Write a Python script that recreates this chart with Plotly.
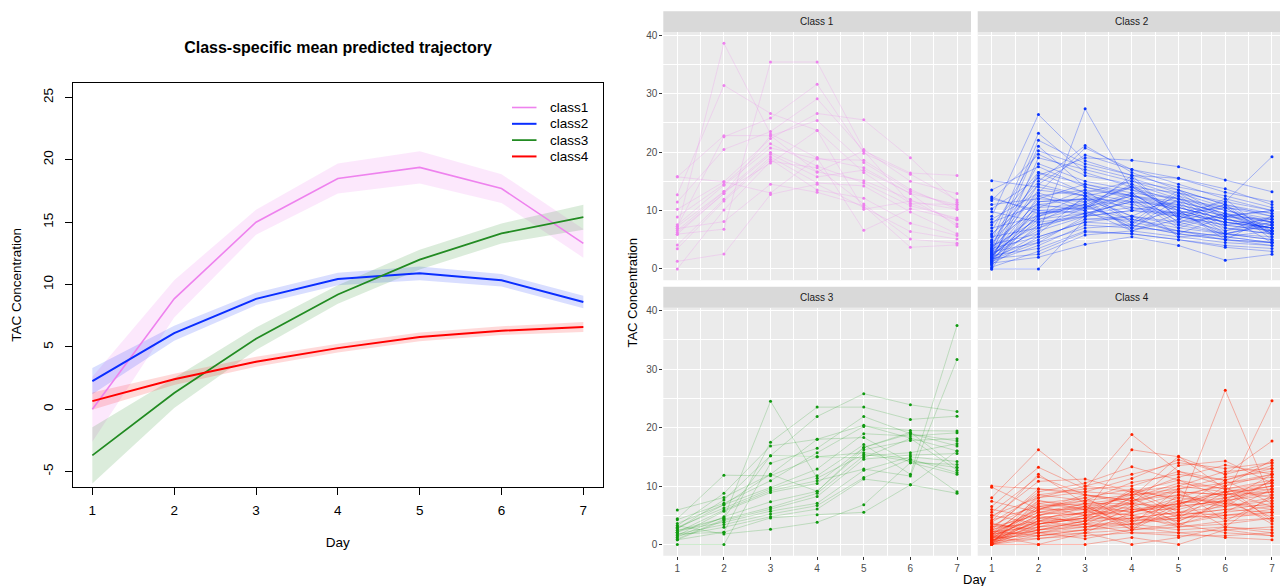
import plotly.graph_objects as go

# The page body has an 8px margin, so the figure is drawn 8px in from the
# top-left corner; positions below are given in the reference's pixels.
OFF = 8
W, H = 1288 - OFF, 586 - OFF
FONT = "Liberation Sans, Arial, Helvetica, sans-serif"

# ---------------- data ----------------
days = [1, 2, 3, 4, 5, 6, 7]
class_names = ["class1", "class2", "class3", "class4"]
facet_titles = ["Class 1", "Class 2", "Class 3", "Class 4"]
left_ticks_y = [-5, 0, 5, 10, 15, 20, 25]
left_ticktext_y = ["-5", "0", "5", "10", "15", "20", "25"]
right_ticks_y = [0, 10, 20, 30, 40]

mean_class1 = [0.0, 8.85, 15.0, 18.5, 19.4, 17.7, 13.3]
lower_class1 = [-2.6, 7.35, 14.0, 17.3, 18.1, 16.55, 12.15]
upper_class1 = [2.6, 10.35, 16.0, 19.7, 20.7, 18.85, 14.45]
mean_class2 = [2.25, 6.1, 8.85, 10.45, 10.9, 10.35, 8.6]
lower_class2 = [1.2, 5.5, 8.35, 9.95, 10.35, 9.85, 8.1]
upper_class2 = [3.3, 6.7, 9.35, 10.95, 11.45, 10.85, 9.1]
mean_class3 = [-3.7, 1.3, 5.65, 9.2, 12.0, 14.1, 15.4]
lower_class3 = [-5.95, 0.1, 4.75, 8.45, 11.2, 13.3, 14.4]
upper_class3 = [-1.45, 2.5, 6.55, 9.95, 12.8, 14.9, 16.4]
mean_class4 = [0.65, 2.4, 3.8, 4.9, 5.8, 6.3, 6.6]
lower_class4 = [-0.05, 1.95, 3.4, 4.55, 5.45, 5.95, 6.2]
upper_class4 = [1.35, 2.85, 4.2, 5.25, 6.15, 6.65, 7.0]

traj_class1 = [
    [6.9, 38.6, 23.1, 19.0, 17.3, 12.9, 11.0],
    [15.75, 22.8, 22.8, 25.4, 18.2, 13.3, 10.6],
    [12.7, 31.4, 26.6, 23.7, 16.5, 11.2, 8.4],
    [5.95, 6.8, 35.4, 35.4, 20.45, 15.0, 12.9],
    [7.25, 22.6, 25.8, 31.6, 19.8, 16.2, 11.8],
    [11.44, 20.45, 23.5, 29.1, 20.2, 16.4, 16.0],
    [10.2, 14.9, 22.3, 26.6, 25.5, 19.0, 11.4],
    [8.9, 14.5, 21.4, 17.6, 14.7, 10.8, 8.7],
    [7.54, 14.3, 20.7, 18.8, 18.6, 13.6, 10.2],
    [6.57, 13.26, 19.9, 16.6, 15.1, 11.9, 7.7],
    [6.23, 12.9, 19.6, 15.75, 16.9, 12.9, 7.25],
    [4.08, 11.9, 19.15, 14.7, 14.2, 9.75, 6.0],
    [3.46, 11.6, 18.75, 13.5, 12.1, 7.8, 5.7],
    [1.3, 2.55, 12.75, 14.5, 10.5, 6.4, 5.1],
    [0.0, 10.1, 18.4, 17.3, 11.1, 5.1, 4.4],
    [6.9, 8.1, 14.5, 13.1, 10.8, 3.7, 4.1],
    [7.25, 13.26, 18.1, 23.7, 10.2, 11.6, 10.2],
    [15.75, 14.9, 13.0, 19.0, 6.6, 10.3, 8.4],
    [5.95, 12.9, 22.8, 16.6, 20.2, 11.2, 11.0],
]

traj_class2 = [
    [0.0, 0.0, 8.5, 9.0, 7.5, 6.0, 5.5],
    [15.1, 14.0, 12.5, 8.0, 13.5, 9.0, 10.0],
    [13.5, 17.5, 14.0, 12.0, 10.0, 8.0, 7.0],
    [12.3, 9.5, 10.5, 14.5, 9.0, 11.0, 5.0],
    [11.7, 19.6, 16.0, 14.5, 12.0, 9.0, 8.0],
    [11.0, 12.0, 11.5, 7.0, 11.0, 6.0, 7.5],
    [10.3, 15.5, 13.0, 15.0, 13.5, 11.0, 9.0],
    [9.8, 8.0, 9.0, 12.0, 7.0, 9.5, 6.5],
    [9.0, 26.4, 18.5, 16.0, 14.0, 12.5, 10.5],
    [8.5, 13.0, 20.7, 17.0, 15.5, 13.1, 11.5],
    [8.0, 11.0, 12.0, 9.0, 12.5, 7.5, 8.5],
    [7.5, 16.5, 14.5, 12.5, 10.5, 8.5, 7.0],
    [7.0, 9.0, 11.0, 14.0, 9.5, 10.5, 6.0],
    [6.5, 20.2, 17.5, 15.5, 13.0, 10.5, 9.5],
    [6.0, 12.5, 10.0, 16.0, 8.5, 12.0, 5.5],
    [5.5, 7.0, 9.5, 11.5, 11.0, 9.0, 7.5],
    [5.0, 14.5, 12.5, 11.0, 9.5, 8.0, 6.5],
    [4.8, 23.2, 16.5, 14.0, 11.5, 9.5, 8.0],
    [4.5, 10.5, 13.5, 8.0, 10.0, 5.0, 9.0],
    [4.2, 6.0, 27.4, 13.5, 10.5, 8.5, 7.5],
    [4.0, 18.0, 15.0, 13.5, 12.0, 10.0, 8.5],
    [3.8, 8.5, 10.5, 13.0, 8.0, 9.0, 4.5],
    [3.6, 11.5, 12.0, 11.5, 9.0, 7.5, 6.5],
    [3.5, 5.5, 8.0, 9.0, 8.0, 6.0, 5.0],
    [3.3, 16.0, 19.0, 18.6, 17.5, 15.2, 13.2],
    [3.2, 9.5, 11.0, 7.5, 13.0, 8.5, 7.0],
    [3.0, 7.5, 9.5, 8.0, 6.5, 5.5, 4.5],
    [3.0, 13.5, 12.5, 9.0, 6.0, 9.0, 10.0],
    [2.9, 4.5, 7.0, 7.5, 6.0, 5.0, 4.0],
    [2.8, 10.0, 10.5, 15.5, 8.5, 6.5, 8.0],
    [2.7, 21.0, 14.0, 12.5, 10.0, 8.0, 7.0],
    [2.6, 6.5, 9.0, 10.0, 9.0, 7.0, 6.0],
    [2.5, 8.0, 12.0, 6.5, 8.5, 11.0, 6.5],
    [2.4, 12.0, 14.5, 13.0, 12.0, 10.5, 9.0],
    [2.3, 3.5, 6.5, 6.0, 5.0, 4.0, 3.5],
    [2.2, 9.0, 11.5, 14.0, 10.0, 5.5, 6.5],
    [2.1, 14.5, 19.5, 17.0, 14.5, 12.0, 10.0],
    [2.0, 5.0, 8.5, 8.5, 7.0, 6.0, 5.0],
    [2.0, 11.0, 10.0, 12.5, 7.5, 9.5, 6.0],
    [1.9, 7.0, 10.5, 12.5, 11.5, 9.5, 8.0],
    [1.8, 2.5, 5.8, 6.5, 5.5, 4.5, 4.0],
    [1.7, 16.5, 13.0, 11.5, 10.5, 8.5, 7.0],
    [1.6, 8.5, 9.5, 11.5, 5.5, 6.0, 8.0],
    [1.5, 6.0, 12.5, 14.0, 13.0, 11.5, 10.0],
    [1.4, 10.5, 11.0, 7.0, 12.0, 7.0, 6.0],
    [1.3, 4.0, 7.5, 7.0, 6.5, 5.5, 4.5],
    [1.2, 19.0, 17.0, 15.0, 12.5, 10.0, 8.0],
    [1.1, 7.5, 9.0, 13.0, 8.0, 10.5, 6.0],
    [1.0, 2.0, 4.2, 5.5, 4.0, 1.5, 2.5],
    [0.9, 12.5, 13.5, 12.5, 11.0, 9.0, 8.5],
    [0.8, 5.5, 8.0, 7.5, 6.0, 5.0, 4.5],
    [0.6, 9.5, 10.0, 6.5, 9.5, 6.0, 7.5],
    [0.3, 3.0, 6.3, 6.0, 5.0, 3.7, 3.0],
    [0.0, 11.5, 12.0, 10.5, 9.0, 7.5, 6.5],
    [12.0, 10.0, 9.5, 10.5, 9.5, 11.5, 19.2],
    [5.8, 15.0, 21.1, 16.5, 13.5, 11.0, 9.5],
    [3.4, 22.0, 18.0, 16.0, 15.5, 13.7, 11.0],
    [2.2, 9.0, 13.0, 10.0, 11.5, 6.5, 9.0],
    [1.6, 4.5, 9.0, 10.0, 9.5, 8.0, 7.0],
    [4.6, 13.0, 10.5, 8.5, 6.5, 5.0, 4.5],
]

traj_class3 = [
    [2.4, 4.55, 24.5, 11.35, 15.4, 14.3, 13.15],
    [4.4, 11.85, 11.75, 15.0, 15.7, 14.6, 12.3],
    [1.8, 2.1, 17.5, 23.5, 23.5, 21.4, 21.95],
    [3.2, 8.75, 16.85, 18.0, 18.3, 14.0, 12.0],
    [2.7, 7.6, 15.2, 21.9, 25.8, 23.9, 22.75],
    [0.0, 0.0, 13.9, 16.45, 21.9, 18.95, 16.85],
    [5.9, 8.05, 12.0, 18.0, 20.4, 18.15, 16.0],
    [4.25, 7.05, 10.9, 15.7, 20.2, 19.5, 19.4],
    [3.6, 6.8, 9.75, 12.9, 18.95, 18.55, 19.1],
    [2.95, 6.25, 9.5, 11.75, 17.1, 12.0, 37.45],
    [2.1, 5.9, 9.2, 10.9, 12.9, 11.7, 31.65],
    [1.5, 5.7, 8.9, 10.45, 16.6, 18.95, 17.7],
    [1.25, 4.75, 7.3, 9.1, 16.2, 17.8, 18.1],
    [0.95, 4.3, 6.35, 8.75, 15.15, 15.7, 17.25],
    [0.8, 4.1, 6.05, 8.2, 14.6, 15.3, 15.55],
    [2.4, 3.8, 5.7, 7.05, 12.7, 15.0, 14.2],
    [1.8, 3.4, 5.2, 6.65, 11.45, 14.6, 9.0],
    [1.5, 2.95, 4.75, 6.05, 11.2, 10.2, 8.75],
    [0.8, 2.1, 4.55, 5.1, 5.5, 10.2, 16.0],
    [3.2, 1.8, 2.6, 3.8, 6.8, 14.0, 13.7],
    [2.1, 4.55, 15.2, 15.0, 14.85, 18.15, 12.7],
    [2.7, 6.8, 12.0, 9.1, 16.6, 19.2, 13.15],
]

traj_class4 = [
    [0.0, 0.0, 0.0, 1.2, 0.0, 2.5, 1.5],
    [10.0, 9.5, 9.0, 8.5, 9.0, 8.5, 10.0],
    [9.8, 6.0, 7.5, 10.6, 12.0, 11.0, 13.0],
    [8.0, 16.2, 10.0, 9.0, 11.0, 9.5, 10.5],
    [7.4, 5.5, 6.5, 3.0, 7.0, 9.0, 4.5],
    [6.5, 13.2, 9.5, 18.8, 12.5, 10.0, 12.0],
    [6.0, 4.5, 5.5, 16.2, 15.0, 12.0, 14.0],
    [5.5, 11.6, 8.5, 7.5, 10.0, 9.0, 9.5],
    [5.0, 3.5, 4.5, 9.5, 5.5, 7.5, 12.0],
    [4.6, 10.8, 11.2, 9.0, 8.0, 10.5, 11.5],
    [4.2, 6.5, 7.0, 2.5, 6.5, 11.0, 7.0],
    [3.8, 8.5, 7.5, 8.5, 9.5, 11.5, 12.5],
    [3.5, 2.5, 4.0, 8.0, 4.5, 9.0, 6.5],
    [3.2, 7.0, 6.0, 7.0, 13.5, 14.3, 10.5],
    [3.0, 5.0, 6.5, 3.5, 9.5, 4.0, 8.0],
    [2.8, 9.0, 10.5, 13.3, 11.0, 8.0, 9.0],
    [2.6, 4.0, 3.0, 4.0, 5.0, 4.5, 5.5],
    [2.4, 6.0, 8.0, 9.5, 7.5, 9.0, 10.0],
    [2.2, 3.0, 5.0, 6.0, 6.0, 26.4, 7.5],
    [2.0, 7.5, 6.5, 5.5, 7.0, 8.0, 24.6],
    [1.9, 2.0, 2.5, 6.5, 4.0, 7.5, 4.0],
    [1.8, 5.5, 7.0, 8.0, 10.5, 9.5, 11.0],
    [1.7, 3.5, 4.5, 4.5, 3.5, 5.0, 6.0],
    [1.6, 8.0, 9.0, 11.3, 14.5, 12.0, 17.7],
    [1.5, 4.5, 5.5, 7.0, 6.5, 7.5, 9.0],
    [1.4, 2.5, 3.5, 3.5, 2.5, 3.0, 2.0],
    [1.3, 6.5, 5.0, 6.5, 8.5, 10.0, 14.4],
    [1.2, 1.5, 2.0, 2.5, 3.0, 4.0, 4.5],
    [1.1, 5.0, 6.0, 2.5, 8.5, 6.5, 11.0],
    [1.0, 3.0, 4.0, 7.5, 9.0, 8.5, 10.0],
    [0.9, 7.0, 8.0, 4.0, 7.5, 3.0, 8.5],
    [0.8, 2.0, 3.0, 4.5, 5.5, 5.0, 5.5],
    [0.7, 4.0, 5.5, 5.0, 4.0, 7.0, 6.5],
    [0.6, 1.0, 1.5, 2.0, 2.0, 1.2, 0.8],
    [0.5, 3.5, 4.5, 8.0, 3.5, 5.5, 9.5],
    [0.4, 6.0, 6.0, 8.5, 11.5, 13.6, 12.0],
    [0.3, 2.5, 3.0, 3.5, 4.5, 5.0, 5.0],
    [0.2, 5.0, 7.0, 7.0, 6.0, 8.0, 9.5],
    [0.1, 1.5, 2.5, 3.0, 2.0, 2.5, 3.0],
    [0.0, 4.5, 4.0, 5.5, 7.5, 6.5, 8.0],
    [0.0, 3.0, 3.5, 7.0, 3.0, 8.0, 3.5],
    [0.0, 8.5, 9.5, 10.0, 12.5, 11.0, 13.5],
    [0.0, 1.0, 2.0, 5.5, 8.0, 7.0, 6.0],
    [0.0, 2.0, 1.0, 2.5, 3.5, 2.0, 1.5],
    [0.5, 6.5, 7.5, 6.0, 5.0, 6.0, 7.0],
    [1.0, 4.0, 6.5, 8.0, 15.1, 9.5, 8.0],
    [1.5, 0.0, 2.0, 0.0, 1.2, 3.0, 2.5],
    [2.0, 5.5, 5.0, 4.0, 4.5, 5.5, 6.5],
    [2.5, 9.5, 8.5, 7.0, 9.5, 10.5, 12.0],
    [3.0, 3.5, 5.0, 9.0, 5.0, 10.0, 4.0],
    [0.3, 7.5, 6.0, 5.0, 6.5, 7.5, 8.5],
    [0.8, 2.5, 4.0, 4.5, 5.5, 6.5, 7.5],
    [1.2, 5.0, 3.5, 2.0, 1.5, 1.5, 2.0],
    [4.0, 12.0, 7.0, 5.5, 7.0, 8.5, 9.0],
    [0.2, 3.5, 5.5, 9.0, 10.0, 12.5, 13.0],
    [2.3, 1.5, 2.5, 3.5, 5.0, 6.0, 5.5],
    [1.7, 6.0, 8.5, 7.5, 8.5, 7.0, 11.0],
    [0.6, 4.0, 4.5, 6.0, 7.0, 9.0, 10.5],
    [3.6, 2.0, 3.5, 5.0, 3.0, 3.5, 4.5],
    [5.0, 8.0, 10.0, 12.0, 14.0, 13.0, 14.0],
]

means = [mean_class1, mean_class2, mean_class3, mean_class4]
lowers = [lower_class1, lower_class2, lower_class3, lower_class4]
uppers = [upper_class1, upper_class2, upper_class3, upper_class4]
trajs = [traj_class1, traj_class2, traj_class3, traj_class4]

# ---------------- style ----------------
line_colors = ["#EE82EE", "#0A2EFF", "#228B22", "#FF0000"]
line_widths = [1.6, 2, 1.8, 2]
band_colors = ["rgba(238,130,238,0.18)", "rgba(20,50,255,0.16)",
               "rgba(34,139,34,0.16)", "rgba(255,0,0,0.15)"]
pt_colors = ["#EE82EE", "#0A35FF", "#109A10", "#FF2200"]
traj_rgba = ["rgba(238,130,238,0.35)", "rgba(10,53,255,0.36)",
             "rgba(16,154,16,0.30)", "rgba(255,34,0,0.36)"]
traj_widths = [0.7, 0.9, 0.7, 0.9]


def px(x):
    return (x - OFF) / W


def py(y):
    return 1 - (y - OFF) / H


fig = go.Figure()

# ---------------- left: mean trajectories ----------------
for i in range(4):
    fig.add_trace(go.Scatter(x=days, y=lowers[i], mode="lines",
                             line=dict(width=0, color=band_colors[i]),
                             showlegend=False, hoverinfo="skip",
                             xaxis="x", yaxis="y"))
    fig.add_trace(go.Scatter(x=days, y=uppers[i], mode="lines",
                             line=dict(width=0, color=band_colors[i]),
                             fill="tonexty", fillcolor=band_colors[i],
                             showlegend=False, hoverinfo="skip",
                             xaxis="x", yaxis="y"))
for i in range(4):
    fig.add_trace(go.Scatter(x=days, y=means[i], mode="lines", name=class_names[i],
                             line=dict(color=line_colors[i], width=line_widths[i]),
                             showlegend=False, xaxis="x", yaxis="y"))

shapes = []
annotations = []

# legend of the left panel (no frame, top-right inside the box)
leg_line_x = (512, 536.5)
leg_text_x = 548
leg_y0, leg_dy = 105, 16.4
for i in range(4):
    yy = leg_y0 + i * leg_dy
    shapes.append(dict(type="line", xref="paper", yref="paper",
                       x0=px(leg_line_x[0]), x1=px(leg_line_x[1]), y0=py(yy), y1=py(yy),
                       line=dict(color=line_colors[i], width=line_widths[i])))
    annotations.append(dict(text=class_names[i], xref="paper", yref="paper",
                            x=px(leg_text_x), y=py(yy), xanchor="left", yanchor="middle",
                            showarrow=False,
                            font=dict(family=FONT, size=13.5, color="black")))

# ---------------- right: facets ----------------
colx = [(663.3, 971.0), (977.7, 1286.0)]
rowy = [(29.3, 278.6), (306.3, 555.6)]
strip_h = 21.0

for i in range(4):
    k = i + 2
    r, c = divmod(i, 2)
    for tr in trajs[i]:
        fig.add_trace(go.Scatter(x=days, y=tr, mode="lines",
                                 line=dict(color=traj_rgba[i], width=traj_widths[i]),
                                 showlegend=False, hoverinfo="skip",
                                 xaxis=f"x{k}", yaxis=f"y{k}"))
    xs, ys = [], []
    for tr in trajs[i]:
        xs.extend(days)
        ys.extend(tr)
    fig.add_trace(go.Scatter(x=xs, y=ys, mode="markers",
                             marker=dict(color=pt_colors[i], size=3.0, line=dict(width=0)),
                             showlegend=False, hoverinfo="skip",
                             xaxis=f"x{k}", yaxis=f"y{k}"))
    x0, x1 = colx[c]
    y0, y1 = rowy[r]
    shapes.append(dict(type="rect", xref=f"x{k} domain", yref=f"y{k} domain",
                       x0=0, x1=1, y0=0, y1=1, fillcolor="#EBEBEB",
                       line=dict(width=0), layer="below"))
    shapes.append(dict(type="rect", xref="paper", yref="paper",
                       x0=px(x0), x1=px(x1), y0=py(y0), y1=py(y0 - strip_h),
                       fillcolor="#D9D9D9", line=dict(width=0), layer="below"))
    annotations.append(dict(text=facet_titles[i], xref="paper", yref="paper",
                            x=px((x0 + x1) / 2), y=py(y0 - strip_h / 2),
                            xanchor="center", yanchor="middle", showarrow=False,
                            font=dict(family=FONT, size=10, color="#1A1A1A")))

# right axis titles
annotations.append(dict(text="Day", xref="paper", yref="paper", x=px(975), y=py(579),
                        xanchor="center", yanchor="middle", showarrow=False,
                        font=dict(family=FONT, size=13, color="black")))
annotations.append(dict(text="TAC Concentration", xref="paper", yref="paper",
                        x=px(633), y=py(291), xanchor="center", yanchor="middle",
                        textangle=-90, showarrow=False,
                        font=dict(family=FONT, size=13, color="black")))

layout = dict(
    width=W, height=H,
    margin=dict(l=0, r=0, t=0, b=0),
    paper_bgcolor="white", plot_bgcolor="white",
    font=dict(family=FONT, color="black"),
    title=dict(text="<b>Class-specific mean predicted trajectory</b>",
               x=px(338), y=py(47), xanchor="center", yanchor="middle",
               font=dict(family=FONT, size=16, color="black")),
    showlegend=False,
    xaxis=dict(domain=[px(72.7), px(603)], range=[0.76, 7.24], anchor="y",
               tickmode="array", tickvals=days, ticks="outside", ticklen=7,
               tickcolor="black", showline=True, mirror=True, linecolor="black",
               linewidth=1, showgrid=False, zeroline=False,
               tickfont=dict(family=FONT, size=13.5, color="black"),
               ticklabelstandoff=4,
               title=dict(text="Day", font=dict(family=FONT, size=13.5), standoff=20)),
    yaxis=dict(domain=[py(486), py(80.7)], range=[-6.2, 26.14], anchor="x",
               tickmode="array", tickvals=left_ticks_y, ticktext=left_ticktext_y,
               tickangle=-90, ticks="outside", ticklen=7,
               tickcolor="black", showline=True, mirror=True, linecolor="black",
               linewidth=1, showgrid=False, zeroline=False,
               tickfont=dict(family=FONT, size=13.5, color="black"),
               ticklabelstandoff=6,
               title=dict(text="TAC Concentration", font=dict(family=FONT, size=13.5),
                          standoff=16)),
    shapes=shapes,
    annotations=annotations,
)

for i in range(4):
    k = i + 2
    r, c = divmod(i, 2)
    x0, x1 = colx[c]
    y0, y1 = rowy[r]
    layout[f"xaxis{k}"] = dict(
        domain=[px(x0), px(x1)], range=[0.7, 7.3], anchor=f"y{k}",
        tickmode="linear", tick0=1, dtick=1,
        showticklabels=(r == 1), ticks="outside" if r == 1 else "",
        ticklen=3, tickcolor="#333333", tickwidth=1,
        tickfont=dict(family=FONT, size=10, color="#4D4D4D"),
        showgrid=True, gridcolor="white", gridwidth=1.2,
        minor=dict(dtick=0.5, tick0=1, showgrid=True, gridcolor="white", gridwidth=0.6),
        zeroline=False, showline=False)
    layout[f"yaxis{k}"] = dict(
        domain=[py(y1), py(y0)], range=[-1.93, 40.5], anchor=f"x{k}",
        tickmode="array", tickvals=right_ticks_y,
        showticklabels=(c == 0), ticks="outside" if c == 0 else "",
        ticklen=3, tickcolor="#333333", tickwidth=1,
        tickfont=dict(family=FONT, size=10, color="#4D4D4D"),
        showgrid=True, gridcolor="white", gridwidth=1.2,
        minor=dict(dtick=5, tick0=0, showgrid=True, gridcolor="white", gridwidth=0.6),
        zeroline=False, showline=False)

fig.update_layout(**layout)
fig.write_html("out.html")
